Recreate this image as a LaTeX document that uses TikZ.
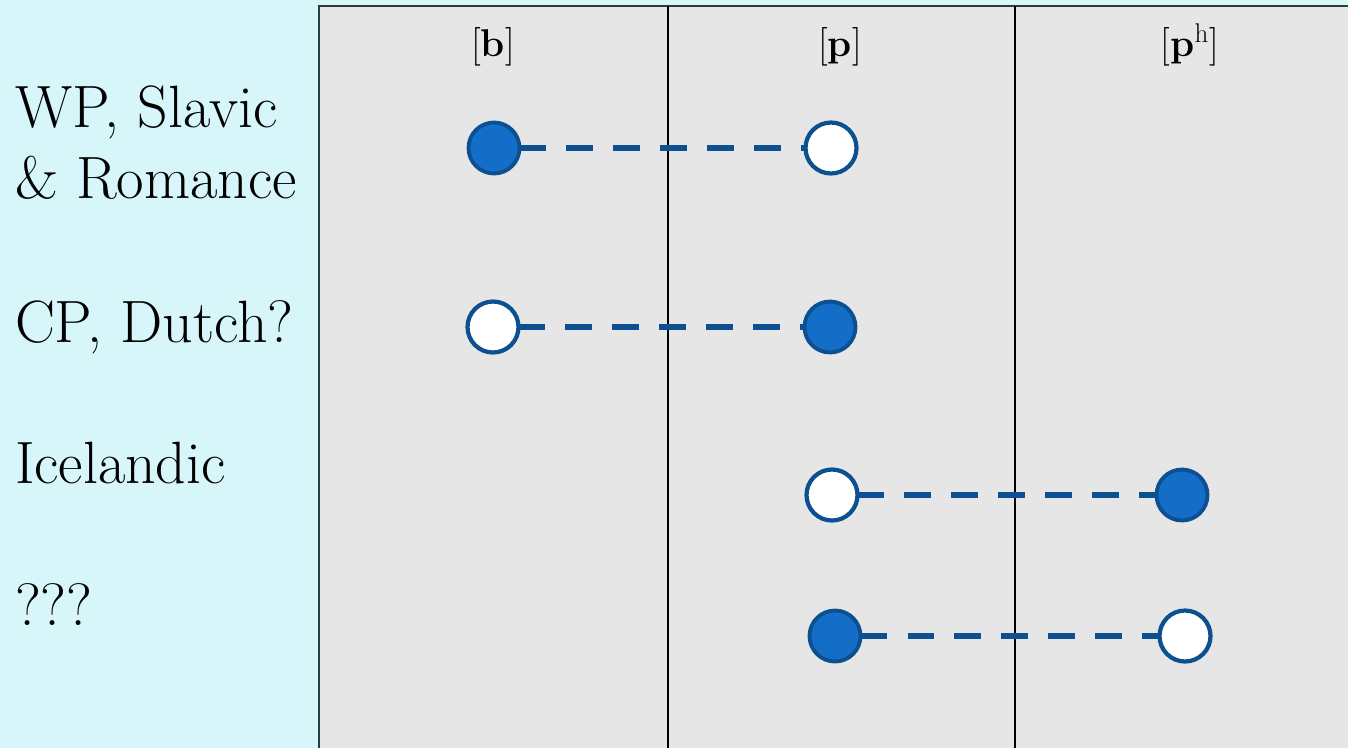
\documentclass[tikz,border=0pt]{standalone}
\usepackage{tikz}
\usetikzlibrary{arrows.meta,positioning}
\definecolor{paleCyan}{RGB}{214,246,250}
\definecolor{panelGray}{RGB}{230,230,230}
\definecolor{dotBlue}{RGB}{20,110,200}
\definecolor{edgeBlue}{RGB}{12,80,145}
\definecolor{frameDark}{RGB}{40,60,65}
\newcommand{\lblsize}{\fontsize{34}{41}\selectfont}
\newcommand{\hdrsize}{\fontsize{22}{26}\selectfont}

\begin{document}
\begin{tikzpicture}[
    x=0.02cm, y=-0.02cm,
    every node/.style={inner sep=0pt, outer sep=0pt},
    lang/.style={anchor=base west, font=\lblsize},
    hdr/.style={anchor=base, font=\hdrsize},
    fullpt/.style={circle, draw=edgeBlue, line width=2.2pt, fill=dotBlue, minimum size=1.02cm},
    emptypt/.style={circle, draw=edgeBlue, line width=2.4pt, fill=white, minimum size=1.02cm},
    link/.style={draw=edgeBlue, line width=3.4pt, dash pattern=on 0.53cm off 0.41cm}
]
    \useasboundingbox (0,0) rectangle (1348,748);
    \fill[paleCyan] (0,0) rectangle (1348,748);
    \fill[panelGray] (319,6) rectangle (1348,748);
    \draw[frameDark, line width=1.4pt] (319,748) -- (319,6) -- (1348,6);
    \draw[black, line width=0.8pt] (668,6) -- (668,748);
    \draw[black, line width=0.8pt] (1015,6) -- (1015,748);

    \node[hdr] (hb) at (493,56) {[\textbf{b}]};
    \node[hdr] (hp) at (840,56) {[\textbf{p}]};
    \node[hdr] (hph) at (1190,56) {[\textbf{p}\textsuperscript{h}]};

    \node[lang] (wp) at (15,127) {WP, Slavic};
    \node[lang] (rom) at (15,198) {\& Romance};
    \node[lang] (cp) at (15,342) {CP, Dutch?};
    \node[lang] (ice) at (15,483) {Icelandic};
    \node[lang] (unk) at (15,625) {???};

    \node[fullpt] (wpb) at (494,148) {};
    \node[emptypt] (wpp) at (831,148) {};
    \node[emptypt] (cpb) at (493,327) {};
    \node[fullpt] (cpp) at (830,327) {};
    \node[emptypt] (icep) at (832,495) {};
    \node[fullpt] (iceph) at (1182,495) {};
    \node[fullpt] (unkp) at (835,636) {};
    \node[emptypt] (unkph) at (1185,636) {};

    \draw[link] (wpb) -- (wpp);
    \draw[link] (cpb) -- (cpp);
    \draw[link] (icep) -- (iceph);
    \draw[link] (unkp) -- (unkph);
\end{tikzpicture}
\end{document}
